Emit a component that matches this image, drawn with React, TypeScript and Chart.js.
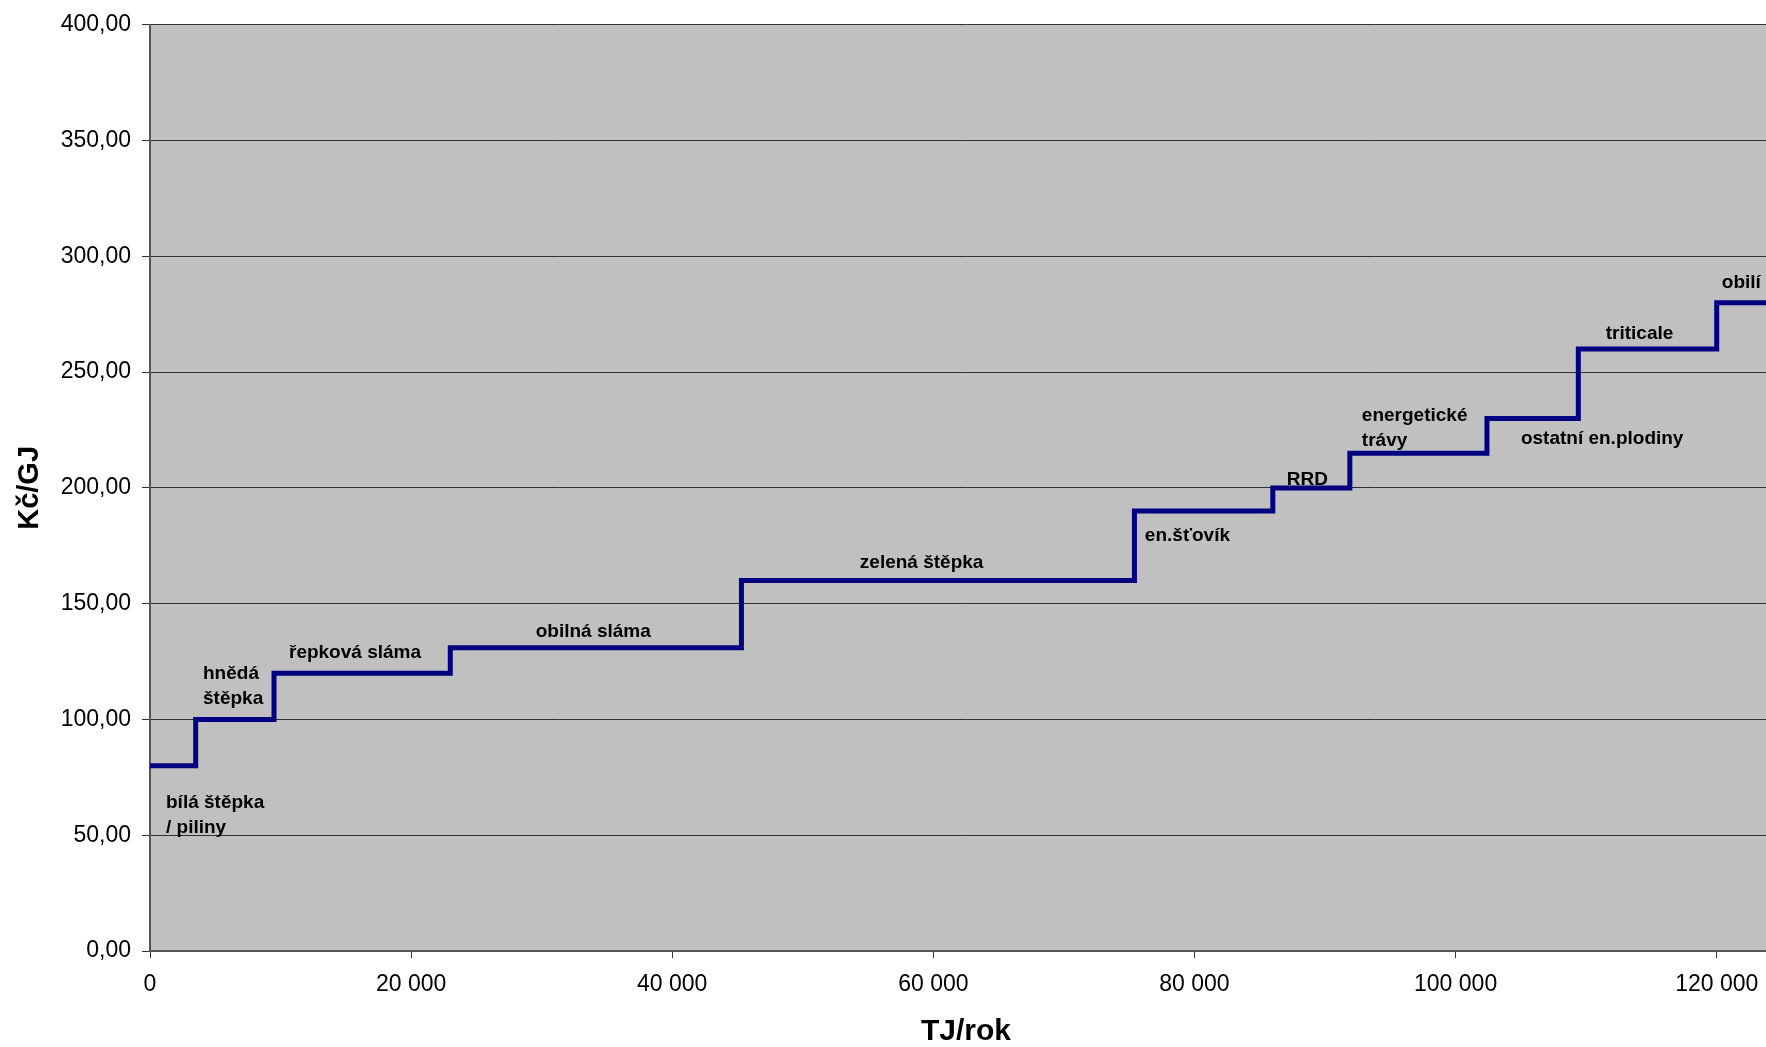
import React, { useEffect, useRef } from "react";
import { Chart, registerables } from "chart.js";

Chart.register(...registerables);

// Step boundaries (TJ/rok) and price of each step (Kč/GJ)
const stepBounds: number[] = [0, 3500, 9500, 23000, 45300, 75400, 86000, 91900, 102400, 109400, 120000, 125000];
const stepPrices: number[] = [80, 100, 120, 131, 160, 190, 200, 215, 230, 260, 280];

// Axis tick values
const xTickValues: number[] = [0, 20000, 40000, 60000, 80000, 100000, 120000];
const yTickValues: number[] = [0, 50, 100, 150, 200, 250, 300, 350, 400];

// Segment labels: text lines, anchor x (left edge, TJ/rok), baseline y of first line (Kč/GJ)
const labelTexts: string[][] = [
  ["bílá štěpka", "/ piliny"],
  ["hnědá", "štěpka"],
  ["řepková sláma"],
  ["obilná sláma"],
  ["zelená štěpka"],
  ["en.šťovík"],
  ["RRD"],
  ["energetické", "trávy"],
  ["ostatní en.plodiny"],
  ["triticale"],
  ["obilí"],
];
const labelX: number[] = [1225, 4060, 10645, 29540, 54370, 76200, 87070, 92820, 105000, 111500, 120390];
const labelY: number[] = [61.9, 117.4, 126.6, 135.6, 165.6, 177.2, 201.2, 228.7, 218.9, 264.2, 286.5];

const xTitle = "TJ/rok";
const yTitle = "Kč/GJ";

const FONT = "'Liberation Sans', Arial, Helvetica, sans-serif";

export default function App() {
  const canvasRef = useRef<HTMLCanvasElement | null>(null);

  useEffect(() => {
    const canvas = canvasRef.current;
    if (!canvas) return;

    const points = stepPrices.map((p, i) => ({ x: stepBounds[i], y: p }));
    points.push({ x: stepBounds[stepBounds.length - 1], y: stepPrices[stepPrices.length - 1] });

    const bgPlugin = {
      id: "plotBg",
      beforeDraw(chart: any) {
        const { ctx, chartArea } = chart;
        ctx.save();
        ctx.fillStyle = "#C0C0C0";
        ctx.fillRect(chartArea.left, chartArea.top, chartArea.right - chartArea.left, chartArea.bottom - chartArea.top);
        ctx.restore();
      },
    };

    const labelPlugin = {
      id: "stepLabels",
      afterDatasetsDraw(chart: any) {
        const { ctx, scales } = chart;
        ctx.save();
        ctx.font = `bold 19px ${FONT}`;
        ctx.fillStyle = "#000000";
        ctx.textAlign = "left";
        ctx.textBaseline = "alphabetic";
        labelTexts.forEach((lines, i) => {
          const px = scales.x.getPixelForValue(labelX[i]);
          const py = scales.y.getPixelForValue(labelY[i]);
          lines.forEach((line, j) => ctx.fillText(line, px, py + j * 25));
        });
        ctx.restore();
      },
    };

    const chart = new Chart(canvas, {
      type: "line",
      data: {
        datasets: [
          {
            data: points,
            stepped: "before",
            borderColor: "#000080",
            borderWidth: 5,
            pointRadius: 0,
            fill: false,
            borderJoinStyle: "miter",
            borderCapStyle: "butt",
          } as any,
        ],
      },
      options: {
        animation: false,
        responsive: true,
        maintainAspectRatio: false,
        layout: { padding: { left: 0, top: 21, right: 18, bottom: 0 } },
        plugins: {
          legend: { display: false },
          tooltip: { enabled: false },
        },
        scales: {
          x: {
            type: "linear",
            min: 0,
            max: stepBounds[stepBounds.length - 1],
            afterBuildTicks(scale: any) {
              scale.ticks = xTickValues.map((v) => ({ value: v }));
            },
            afterFit(scale: any) {
              scale.height = 96;
            },
            ticks: {
              maxRotation: 0,
              autoSkip: false,
              padding: 13,
              color: "#000000",
              font: { family: FONT, size: 23 },
              callback: (v: any) => String(Math.round(Number(v))).replace(/\B(?=(\d{3})+(?!\d))/g, " "),
            },
            grid: {
              drawOnChartArea: false,
              drawTicks: true,
              tickLength: 7,
              color: "#333333",
              lineWidth: 1,
            },
            border: { display: true, color: "#555555", width: 2 },
            title: {
              display: true,
              text: xTitle,
              color: "#000000",
              font: { family: FONT, size: 30, weight: "bold", lineHeight: 1 },
              padding: { top: 0, bottom: 0 },
            },
          },
          y: {
            type: "linear",
            min: 0,
            max: 400,
            afterBuildTicks(scale: any) {
              scale.ticks = yTickValues.map((v) => ({ value: v }));
            },
            afterFit(scale: any) {
              scale.width = 150;
            },
            ticks: {
              padding: 11,
              color: "#000000",
              font: { family: FONT, size: 23 },
              callback: (v: any) => Number(v).toFixed(2).replace(".", ","),
            },
            grid: {
              drawOnChartArea: true,
              drawTicks: true,
              tickLength: 8,
              color: "#303030",
              lineWidth: 1,
            },
            border: { display: true, color: "#555555", width: 2 },
            title: {
              display: true,
              text: yTitle,
              color: "#000000",
              font: { family: FONT, size: 29, weight: "bold", lineHeight: 1.2 },
              padding: { top: 13, bottom: 0 },
            },
          },
        },
      },
      plugins: [bgPlugin, labelPlugin],
    });

    return () => {
      chart.destroy();
    };
  }, []);

  return (
    <div
      style={{
        position: "fixed",
        left: 0,
        top: 0,
        width: "1766px",
        height: "1047px",
        overflow: "hidden",
        background: "#ffffff",
      }}
    >
      <div style={{ position: "relative", width: "1800px", height: "1047px" }}>
        <canvas ref={canvasRef} />
      </div>
    </div>
  );
}
